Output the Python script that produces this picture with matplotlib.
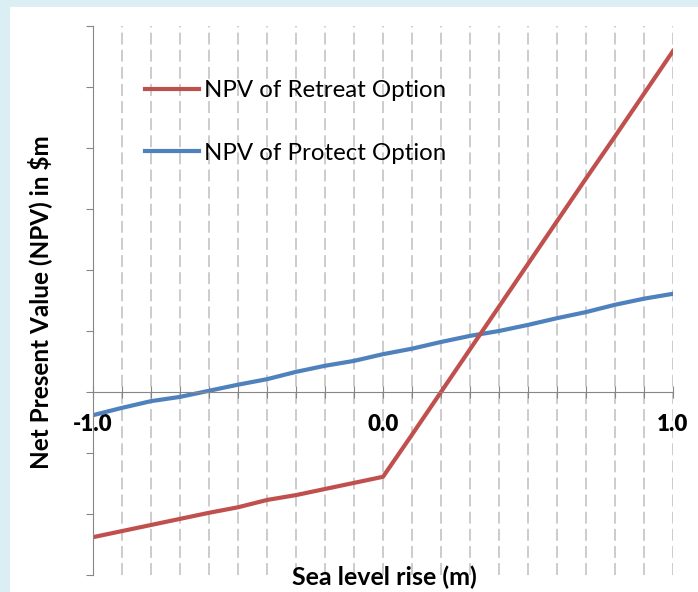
import numpy as np
import matplotlib
matplotlib.use("Agg")
import matplotlib.pyplot as plt
from matplotlib.patches import Rectangle

plt.rcParams['font.family'] = ['Lato', 'DejaVu Sans']

# sea level rise (m) and NPV of each option ($m)
slr = [-1.0, -0.9, -0.8, -0.7, -0.6, -0.5, -0.4, -0.3, -0.2, -0.1, 0.0,
       0.1, 0.2, 0.3, 0.4, 0.5, 0.6, 0.7, 0.8, 0.9, 1.0]
npv_retreat = [-2.38, -2.28, -2.18, -2.08, -1.98, -1.89, -1.77, -1.69, -1.59, -1.49, -1.39,
               -0.70, 0.00, 0.70, 1.40, 2.10, 2.80, 3.50, 4.19, 4.89, 5.59]
npv_protect = [-0.38, -0.26, -0.15, -0.08, 0.02, 0.12, 0.21, 0.33, 0.43, 0.51, 0.62,
               0.71, 0.82, 0.92, 1.00, 1.10, 1.21, 1.31, 1.43, 1.53, 1.61]

x_ticks = np.round(np.arange(-1.0, 1.05, 0.1), 1)
x_labels = ['-1.0' if t == -1.0 else '0.0' if t == 0.0 else '1.0' if t == 1.0 else '' for t in x_ticks]

fig = plt.figure(figsize=(6.98, 5.92), dpi=100)
fig.patch.set_facecolor('#DAEEF3')
fig.add_artist(Rectangle((10/698, 0), 1 - 10/698, 1 - 7/592, transform=fig.transFigure,
                         facecolor='white', edgecolor='none', zorder=-10))

ax = fig.add_axes([93/698, 1 - 575/592, 580/698, 549/592])
ax.set_facecolor('none')
ax.set_xlim(-1, 1)
ax.set_ylim(-3, 6)

for s in ['top', 'right']:
    ax.spines[s].set_visible(False)
ax.spines['bottom'].set_position(('data', 0))
ax.spines['left'].set_color('#868686')
ax.spines['bottom'].set_color('#868686')

ax.set_yticks(range(-3, 7))
ax.set_yticklabels([])
ax.tick_params(axis='y', direction='out', length=5, color='#868686')

ax.set_xticks(x_ticks, x_labels)
ax.tick_params(axis='x', direction='inout', length=8, color='#868686', pad=12,
               labelsize=16)
for lbl in ax.get_xticklabels():
    lbl.set_fontweight('heavy')

ax.grid(axis='x', color='#BFBFBF', linestyle=(0, (7.8, 3.4)), linewidth=1.1)
ax.set_axisbelow(True)

l_protect, = ax.plot(slr, npv_protect, color='#4F81BD', lw=3, label='NPV of Protect Option')
l_retreat, = ax.plot(slr, npv_retreat, color='#C0504D', lw=3, label='NPV of Retreat Option')

ax.legend(handles=[l_retreat, l_protect], loc='upper left', bbox_to_anchor=(52/580, 0.901),
          frameon=False, fontsize=17.3, handlelength=2.25, handletextpad=0.2,
          labelspacing=1.72, borderpad=0, borderaxespad=0)

ax.set_ylabel('Net Present Value (NPV) in $m', fontsize=17.5, fontweight='bold', va='center')
ax.yaxis.set_label_coords(-0.0914, 0.497)
ax.set_xlabel('Sea level rise (m)', fontsize=18, fontweight='bold', va='center')
ax.xaxis.set_label_coords(0.502, -0.004)

fig.savefig('out.png', dpi=100)
